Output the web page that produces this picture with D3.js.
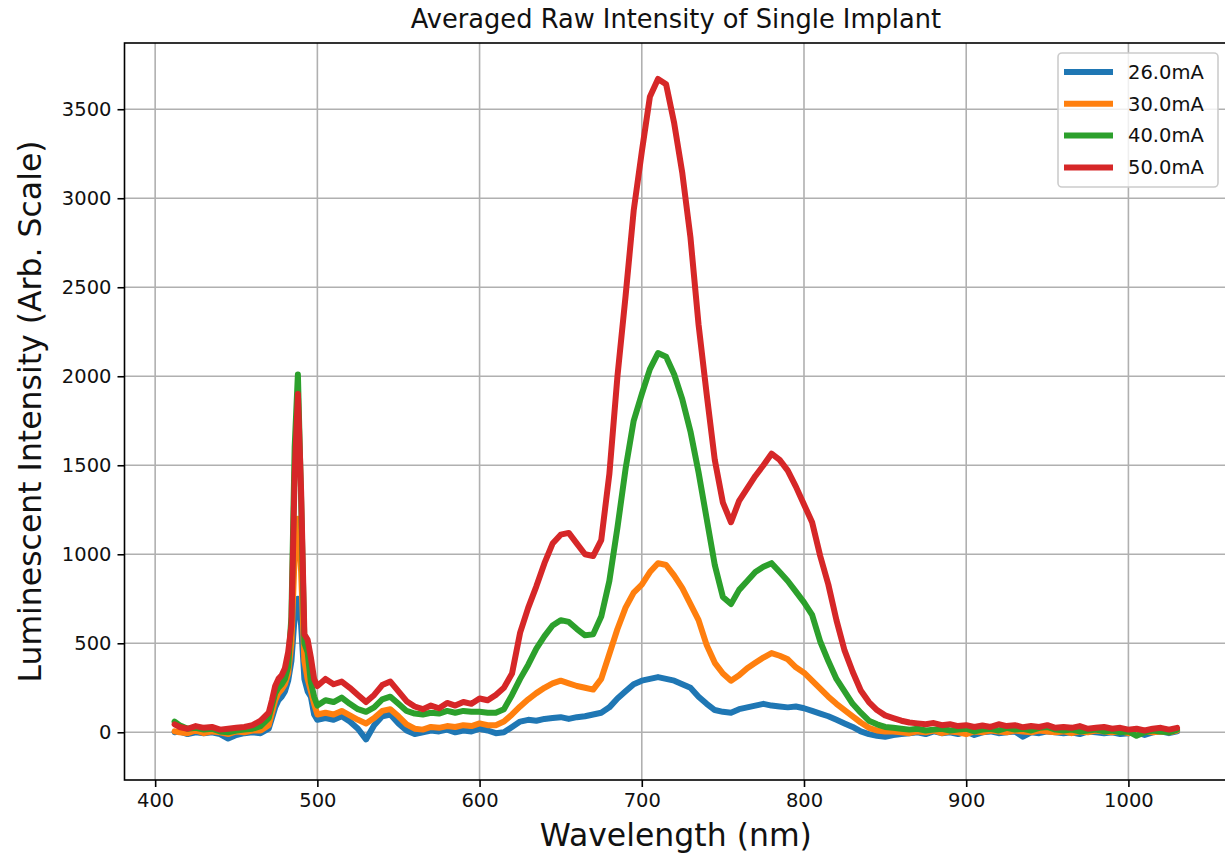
<!doctype html>
<html>
<head>
<meta charset="utf-8">
<title>Averaged Raw Intensity of Single Implant</title>
<script src="https://cdnjs.cloudflare.com/ajax/libs/d3/7.8.5/d3.min.js"></script>
<style>
  body { margin: 0; background: #fff; }
  svg text { font-family: "DejaVu Sans", sans-serif; fill: #111; }
</style>
</head>
<body>
<div id="chart"></div>
<script>
// wavelength grid (nm): coarse baseline, finer around the 488 nm line
const wavelength = [
  412, 415, 420, 425, 430, 435, 440, 445, 450, 455, 460, 465,
  470, 472, 474, 476, 478, 480, 482, 484, 486, 488, 490, 492, 494, 496, 498,
  500, 505, 510, 515, 520, 525, 530, 535, 540, 545,
  550, 555, 560, 565, 570, 575, 580, 585, 590, 595,
  600, 605, 610, 615, 620, 625, 630, 635, 640, 645,
  650, 655, 660, 665, 670, 675, 680, 685, 690, 695,
  700, 705, 710, 715, 720, 725, 730, 735, 740, 745,
  750, 755, 760, 765, 770, 775, 780, 785, 790, 795,
  800, 805, 810, 815, 820, 825, 830, 835, 840, 845,
  850, 855, 860, 865, 870, 875, 880, 885, 890, 895,
  900, 905, 910, 915, 920, 925, 930, 935, 940, 945,
  950, 955, 960, 965, 970, 975, 980, 985, 990, 995,
  1000, 1005, 1010, 1015, 1020, 1025, 1030
];

const i26 = [
  0, 5, -10, 0, -5, 0, -10, -35, -15, -5, 0, -5,
  20, 80, 140, 180, 200, 230, 290, 400, 650, 750, 600, 300, 230, 200, 100,
  70, 80, 70, 90, 60, 20, -40, 40, 90, 100,
  50, 10, -10, 0, 10, 5, 15, 0, 10, 5,
  20, 10, -5, 0, 30, 60, 70, 65, 75, 80,
  85, 75, 85, 90, 100, 110, 140, 190, 230, 270,
  290, 300, 310, 300, 290, 270, 250, 200, 160, 125,
  115, 110, 130, 140, 150, 160, 150, 145, 140, 145,
  135, 120, 105, 90, 70, 50, 30, 5, -10, -20,
  -25, -15, -10, -5, 0, -10, 5, -5, 0, -10,
  5, -15, 0, 5, -5, 0, 5, -25, 0, -5,
  5, 0, -5, 0, -10, 5, 0, -5, 0, -10,
  -5, 0, -15, 0, 5, -5, 5
];

const i30 = [
  5, 0, -5, 10, -5, 5, 0, -10, 5, 0, 10, 10,
  40, 110, 180, 220, 240, 270, 330, 500, 1000, 1200, 900, 400, 300, 230, 160,
  100, 110, 100, 120, 95, 70, 50, 80, 120, 130,
  90, 45, 20, 15, 30, 25, 35, 30, 40, 35,
  50, 40, 40, 60, 100, 145, 185, 220, 250, 275,
  290, 275, 260, 250, 240, 300, 440, 580, 700, 785,
  830, 900, 950, 940, 880, 810, 720, 630, 490, 390,
  330, 290, 320, 360, 390, 420, 445, 430, 410, 365,
  335, 290, 245, 200, 160, 125, 90, 55, 25, 10,
  5, 5, 0, -5, 5, 0, 10, -5, 5, 0,
  -10, 5, 0, 10, 5, 0, 10, 5, 0, 10,
  5, 0, 5, -5, 5, 0, 10, 5, 0, 5,
  -5, 0, 5, 0, 5, 0, 10
];

const i40 = [
  60, 40, 20, 25, 15, 20, 5, 0, 10, 15, 20, 35,
  80, 150, 220, 250, 270, 300, 370, 650, 1600, 2010, 1300, 500, 450, 280, 200,
  150, 180, 170, 195, 160, 130, 115, 140, 185, 200,
  160, 120, 105, 100, 110, 105, 120, 110, 120, 115,
  115, 110, 110, 130, 210, 300, 380, 470, 540, 600,
  630, 620, 580, 545, 550, 650, 850, 1150, 1480, 1750,
  1900, 2040, 2130, 2110, 2010, 1870, 1690, 1460, 1200, 940,
  760, 720, 800, 850, 900, 930, 950, 900, 850, 790,
  730, 660, 510, 400, 300, 230, 160, 110, 65, 45,
  30, 25, 20, 15, 20, 10, 15, 20, 10, 15,
  20, 5, 15, 20, 10, 25, 15, 20, 10, 25,
  30, 15, 10, 15, 5, 10, 15, 5, 10, 0,
  5, -20, 0, 10, 5, 0, 15
];

const i50 = [
  45, 30, 20, 35, 25, 30, 15, 20, 25, 30, 40, 65,
  110, 180, 260, 300, 320, 360, 450, 600, 1450, 1900, 1350, 550, 520, 420, 300,
  260, 300, 270, 285, 250, 210, 170, 210, 265, 285,
  230, 175, 145, 130, 150, 135, 165, 150, 170, 160,
  190, 180, 210, 250, 330, 560, 700, 820, 950, 1060,
  1110, 1120, 1060, 1000, 990, 1080, 1450, 2000, 2450, 2930,
  3260, 3570, 3670, 3640, 3420, 3140, 2780, 2290, 1900, 1530,
  1290, 1180, 1300, 1370, 1440, 1500, 1565, 1530, 1470, 1380,
  1280, 1180, 990, 830, 630, 460, 340, 235, 170, 125,
  95, 80, 65, 55, 50, 45, 52, 40, 45, 35,
  40, 30, 38, 30, 45, 35, 40, 28, 35, 30,
  40, 25, 30, 25, 35, 20, 25, 30, 20, 25,
  15, 20, 10, 20, 25, 15, 25
];

const seriesLabels = ['26.0mA', '30.0mA', '40.0mA', '50.0mA'];
const seriesColors = ['#1f77b4', '#ff7f0e', '#2ca02c', '#d62728'];
const xTicks = [400, 500, 600, 700, 800, 900, 1000];
const yTicks = [0, 500, 1000, 1500, 2000, 2500, 3000, 3500];

const series = [i26, i30, i40, i50].map((vals, k) => ({
  label: seriesLabels[k],
  color: seriesColors[k],
  points: wavelength.map((w, i) => [w, vals[i]])
}));

const W = 1225, H = 855;
const plotL = 124.5, plotR = 1227.2, plotT = 43, plotB = 780;

const svg = d3.select('#chart').append('svg')
  .attr('width', W).attr('height', H)
  .style('background', '#fff');

const x = d3.scaleLinear().domain([381.1, 1060.9]).range([plotL, plotR]);
const y = d3.scaleLinear().domain([-268, 3872]).range([plotB, plotT]);

// grid
svg.append('g').selectAll('line')
  .data(xTicks).join('line')
  .attr('x1', d => x(d)).attr('x2', d => x(d))
  .attr('y1', plotT).attr('y2', plotB)
  .attr('stroke', '#b0b0b0').attr('stroke-width', 1.6);

svg.append('g').selectAll('line')
  .data(yTicks).join('line')
  .attr('x1', plotL).attr('x2', plotR)
  .attr('y1', d => y(d)).attr('y2', d => y(d))
  .attr('stroke', '#b0b0b0').attr('stroke-width', 1.6);

// lines
svg.append('clipPath').attr('id', 'plot-clip')
  .append('rect')
  .attr('x', plotL).attr('y', plotT)
  .attr('width', plotR - plotL).attr('height', plotB - plotT);

const line = d3.line()
  .x(d => x(d[0]))
  .y(d => y(d[1]));

svg.append('g').attr('clip-path', 'url(#plot-clip)')
  .selectAll('path')
  .data(series).join('path')
  .attr('d', d => line(d.points))
  .attr('fill', 'none')
  .attr('stroke', d => d.color)
  .attr('stroke-width', 6)
  .attr('stroke-linejoin', 'round')
  .attr('stroke-linecap', 'round');

// axes
const xAxis = svg.append('g')
  .attr('transform', `translate(0,${plotB})`)
  .call(d3.axisBottom(x).tickValues(xTicks).tickSize(7).tickPadding(6).tickFormat(d3.format('d')));

const yAxis = svg.append('g')
  .attr('transform', `translate(${plotL},0)`)
  .call(d3.axisLeft(y).tickValues(yTicks).tickSize(7).tickPadding(6).tickFormat(d3.format('d')));

[xAxis, yAxis].forEach(g => {
  g.select('.domain').remove();
  g.selectAll('.tick line').attr('stroke', '#000').attr('stroke-width', 1.6);
  g.selectAll('.tick text')
    .style('font-family', '"DejaVu Sans", sans-serif')
    .style('font-size', '19.5px')
    .attr('fill', '#222');
});

// frame
svg.append('rect')
  .attr('x', plotL).attr('y', plotT)
  .attr('width', plotR - plotL).attr('height', plotB - plotT)
  .attr('fill', 'none').attr('stroke', '#000').attr('stroke-width', 1.6);

// titles
svg.append('text')
  .attr('x', (plotL + plotR) / 2).attr('y', 28)
  .attr('text-anchor', 'middle')
  .style('font-size', '25.7px')
  .text('Averaged Raw Intensity of Single Implant');

svg.append('text')
  .attr('x', (plotL + plotR) / 2).attr('y', 846)
  .attr('text-anchor', 'middle')
  .style('font-size', '31.5px')
  .text('Wavelength (nm)');

svg.append('text')
  .attr('transform', `translate(41,${(plotT + plotB) / 2}) rotate(-90)`)
  .attr('text-anchor', 'middle')
  .style('font-size', '31.5px')
  .text('Luminescent Intensity (Arb. Scale)');

// legend
const legend = svg.append('g');
legend.append('rect')
  .attr('x', 1058).attr('y', 53)
  .attr('width', 160).attr('height', 134)
  .attr('rx', 4)
  .attr('fill', '#fff').attr('fill-opacity', 0.8)
  .attr('stroke', '#cccccc').attr('stroke-width', 1.6);

const rows = legend.selectAll('g.row')
  .data(series).join('g')
  .attr('class', 'row')
  .attr('transform', (d, i) => `translate(0,${72 + i * 31.8})`);

rows.append('line')
  .attr('x1', 1064).attr('x2', 1113)
  .attr('stroke', d => d.color).attr('stroke-width', 6);

rows.append('text')
  .attr('x', 1128).attr('dy', '0.35em')
  .style('font-size', '19.5px')
  .text(d => d.label);
</script>
</body>
</html>
